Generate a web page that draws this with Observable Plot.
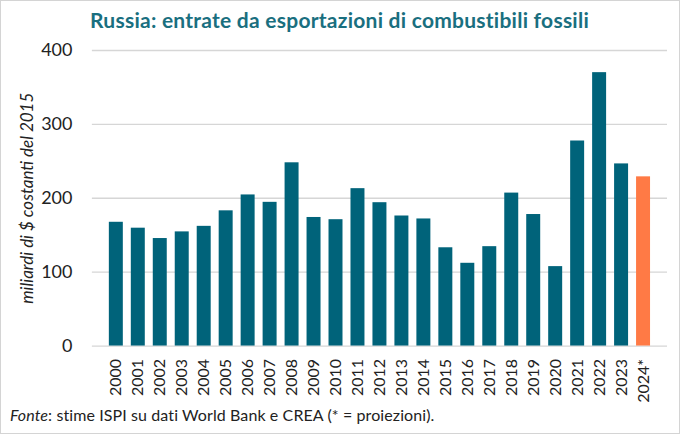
<!DOCTYPE html>
<html>
<head>
<meta charset="utf-8">
<script src="https://cdn.jsdelivr.net/npm/d3@7"></script>
<script src="https://cdn.jsdelivr.net/npm/@observablehq/plot@0.6"></script>
<style>
  html, body { margin: 0; padding: 0; background: #fff; }
  #frame { position: relative; width: 680px; height: 434px; box-sizing: border-box; border: 1px solid #d4d4d4; overflow: hidden; font-family: Lato, "Noto Sans", sans-serif; }
  #title { position: absolute; left: 89px; top: 6px; font-size: 21px; font-weight: 700; color: #1a6f7f; white-space: nowrap; letter-spacing: 0.25px; }
  #chart { position: absolute; left: -1px; top: 39px; }
  #caption { position: absolute; left: 9px; top: 404px; font-size: 16px; color: #222; white-space: nowrap; letter-spacing: 0.1px; }
</style>
</head>
<body>
<div id="frame">
  <div id="title">Russia: entrate da esportazioni di combustibili fossili</div>
  <div id="chart"></div>
  <div id="caption"><i>Fonte</i>: stime ISPI su dati World Bank e CREA (* = proiezioni).</div>
</div>
<script>
const years = ["2000","2001","2002","2003","2004","2005","2006","2007","2008","2009","2010","2011","2012","2013","2014","2015","2016","2017","2018","2019","2020","2021","2022","2023","2024*"];
const values = [167.5,159.5,145.5,154.5,162,183,204.5,194.5,248,174,171,213,194,176,172,133,112,134.5,207,178,107.5,277.5,370,246.5,229];
const projected = ["2024*"];
const yTicks = [0,100,200,300,400];
const yLabel = "miliardi di $ costanti del 2015";

const data = years.map((y, i) => ({year: y, value: values[i], proj: projected.includes(y)}));

const chart = Plot.plot({
  width: 680,
  height: 370,
  marginLeft: 92,
  marginRight: 12,
  marginTop: 10,
  marginBottom: 64,
  style: {fontFamily: "Lato, 'Noto Sans', sans-serif", color: "#222", background: "transparent", overflow: "visible"},
  x: {domain: years, padding: 0.35, label: null},
  y: {domain: [0, 400], ticks: yTicks, label: null},
  color: {domain: [false, true], range: ["#00637a", "#ff7a45"]},
  marks: [
    Plot.gridY(yTicks, {stroke: "#d6d6d6", strokeOpacity: 1, strokeWidth: 1.3}),
    Plot.barY(data, {x: "year", y: "value", fill: "proj"}),
    Plot.axisX({tickSize: 0, tickPadding: 13, tickRotate: -90, fontSize: 16, label: null}),
    Plot.axisY(yTicks, {tickSize: 0, tickPadding: 20, fontSize: 18, label: null}),
    Plot.text([yLabel], {text: d => d, frameAnchor: "left", textAnchor: "middle", rotate: -90, dx: -65, fontStyle: "italic", fontSize: 17, fill: "#222"})
  ]
});
document.getElementById("chart").appendChild(chart);
</script>
</body>
</html>
